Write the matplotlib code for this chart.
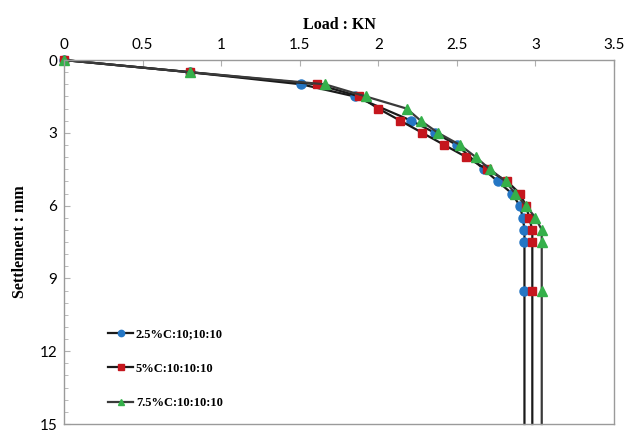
import matplotlib
matplotlib.use('Agg')
import matplotlib.pyplot as plt
from matplotlib.ticker import MultipleLocator

# settlement (mm) and load (KN)
settle_25 = [0, 0.5, 1.0, 1.5, 2.5, 3.0, 3.5, 4.5, 5.0, 5.5, 6.0, 6.5, 7.0, 7.5, 9.5, 15]
load_25 = [0, 0.8, 1.51, 1.85, 2.21, 2.36, 2.50, 2.67, 2.76, 2.85, 2.90, 2.92, 2.93, 2.93, 2.93, 2.93]

settle_5 = [0, 0.5, 1.0, 1.5, 2.0, 2.5, 3.0, 3.5, 4.0, 4.5, 5.0, 5.5, 6.0, 6.5, 7.0, 7.5, 9.5, 15]
load_5 = [0, 0.8, 1.61, 1.88, 2.0, 2.14, 2.28, 2.42, 2.56, 2.69, 2.82, 2.90, 2.94, 2.96, 2.98, 2.98, 2.98, 2.98]

settle_75 = [0, 0.5, 1.0, 1.5, 2.0, 2.5, 3.0, 3.5, 4.0, 4.5, 5.0, 5.5, 6.0, 6.5, 7.0, 7.5, 9.5, 15]
load_75 = [0, 0.8, 1.66, 1.92, 2.18, 2.27, 2.38, 2.52, 2.62, 2.71, 2.81, 2.87, 2.94, 3.0, 3.04, 3.04, 3.04, 3.04]

labels = ['2.5%C:10;10:10', '5%C:10:10:10', '7.5%C:10:10:10']
x_ticks = [0, 0.5, 1, 1.5, 2, 2.5, 3, 3.5]
y_ticks = [0, 3, 6, 9, 12, 15]

plt.rcParams['font.family'] = ['Lato', 'DejaVu Sans']

fig = plt.figure(figsize=(6.29, 4.32), dpi=100)
ax = fig.add_axes([0.1018, 0.0185, 0.8744, 0.8425])

# last point only carries the line down to the axis edge, no marker there
ax.plot(load_25, settle_25, color='#1a1a1a', lw=1.6, marker='o', ms=6.5,
        mfc='#2476c4', mec='#2476c4', label=labels[0], markevery=slice(0, -1), clip_on=False)
ax.plot(load_5, settle_5, color='#1a1a1a', lw=1.6, marker='s', ms=6,
        mfc='#c5161d', mec='#c5161d', label=labels[1], markevery=slice(0, -1), clip_on=False)
ax.plot(load_75, settle_75, color='#3a3a3a', lw=1.6, marker='^', ms=7,
        mfc='#35b04a', mec='#35b04a', label=labels[2], markevery=slice(0, -1), clip_on=False)

ax.set_xlim(0, 3.5)
ax.set_ylim(15, 0)
ax.set_xticks(x_ticks)
ax.set_xticklabels(['0', '0.5', '1', '1.5', '2', '2.5', '3', '3.5'])
ax.set_yticks(y_ticks)
ax.yaxis.set_minor_locator(MultipleLocator(0.5))
ax.xaxis.tick_top()
ax.xaxis.set_label_position('top')
ax.tick_params(axis='x', direction='in', length=4, color='#b0b0b0', labelsize=11, pad=6)
ax.tick_params(axis='y', which='both', direction='in', color='#b0b0b0', labelsize=11, pad=5)
ax.tick_params(axis='y', which='major', length=4)
ax.tick_params(axis='y', which='minor', length=3)

for s in ax.spines.values():
    s.set_color('#9a9a9a')
    s.set_linewidth(1.0)

ax.set_xlabel('Load : KN', family='Liberation Serif', fontweight='bold', fontsize=11.5, labelpad=6)
ax.set_ylabel('Settlement : mm', family='Liberation Serif', fontweight='bold', fontsize=11.5, labelpad=8)

leg = ax.legend(loc='lower left', bbox_to_anchor=(0.06, 0.01), frameon=False,
                prop={'family': 'Liberation Serif', 'weight': 'bold', 'size': 9},
                labelspacing=1.8, handlelength=2.0, handletextpad=0.2, markerscale=0.7)

fig.savefig('out.png', dpi=100)
